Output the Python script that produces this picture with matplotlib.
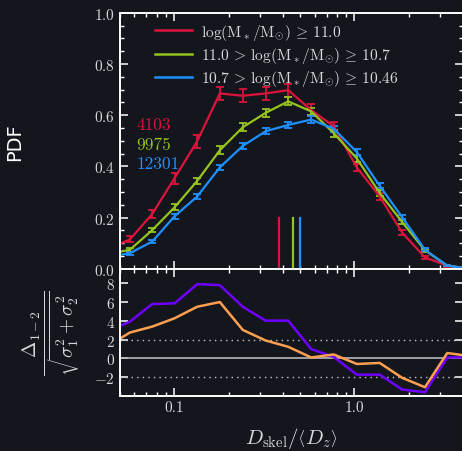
import matplotlib
matplotlib.use('Agg')
import matplotlib.pyplot as plt
from matplotlib.lines import Line2D
from matplotlib.ticker import FixedLocator, FixedFormatter, MultipleLocator, NullFormatter, LogLocator

# data
d_skel = [0.0426, 0.0568, 0.0755, 0.1004, 0.134, 0.179, 0.240, 0.321, 0.429,
          0.575, 0.767, 1.03, 1.38, 1.84, 2.46, 3.27, 4.37]

pdf_high = [0.075, 0.115, 0.214, 0.354, 0.498, 0.685, 0.676, 0.685, 0.698,
            0.620, 0.557, 0.396, 0.282, 0.141, 0.044, 0.012, 0.0]
err_high = [0.012, 0.012, 0.015, 0.022, 0.025, 0.025, 0.025, 0.025, 0.025,
            0.022, 0.018, 0.015, 0.013, 0.010, 0.007, 0.004, 0.002]
pdf_mid = [0.057, 0.074, 0.151, 0.240, 0.343, 0.463, 0.553, 0.609, 0.654,
           0.615, 0.530, 0.431, 0.296, 0.182, 0.072, 0.012, 0.0]
err_mid = [0.007, 0.007, 0.009, 0.011, 0.013, 0.015, 0.016, 0.016, 0.016,
           0.015, 0.014, 0.012, 0.011, 0.009, 0.005, 0.003, 0.001]
pdf_low = [0.044, 0.061, 0.106, 0.205, 0.282, 0.396, 0.480, 0.537, 0.562,
           0.583, 0.547, 0.456, 0.324, 0.201, 0.074, 0.012, 0.0]
err_low = [0.005, 0.006, 0.007, 0.009, 0.010, 0.011, 0.012, 0.012, 0.012,
           0.012, 0.012, 0.011, 0.010, 0.008, 0.005, 0.003, 0.001]

medians = [0.380, 0.455, 0.501]
counts = ['4103', '9975', '12301']

sig_high_low = [2.86, 3.9, 5.76, 5.83, 7.86, 7.76, 5.47, 4.0, 4.0, 0.99, 0.15,
                -1.72, -1.72, -3.3, -3.58, 0.1, 0.1]
sig_high_mid = [1.31, 2.74, 3.37, 4.25, 5.47, 5.97, 3.02, 1.9, 1.23, 0.1, 0.42,
                -0.59, -0.48, -2.06, -3.05, 0.57, 0.25]

labels = [r'$\log(\mathrm{M}_*/\mathrm{M}_{\odot})\,\geq\,11.0$',
          r'$11.0\,>\,\log(\mathrm{M}_*/\mathrm{M}_{\odot})\,\geq\,10.7$',
          r'$10.7\,>\,\log(\mathrm{M}_*/\mathrm{M}_{\odot})\,\geq\,10.46$']
colors = ['#dc143c', '#96c31e', '#1e90ff']

bg = '#14161e'
fg = '#d8d8d8'
plt.rcParams['font.family'] = 'serif'
plt.rcParams['font.serif'] = ['cmr10', 'DejaVu Serif']
plt.rcParams['mathtext.fontset'] = 'cm'
plt.rcParams['axes.formatter.use_mathtext'] = True
plt.rcParams['axes.unicode_minus'] = True

fig = plt.figure(figsize=(4.62, 4.52), dpi=100, facecolor=bg)
ax1 = fig.add_axes([0.2597, 0.4033, 0.7425, 0.566], facecolor=bg)
ax2 = fig.add_axes([0.2597, 0.1223, 0.7425, 0.281], facecolor=bg, sharex=ax1)

series = [(pdf_high, err_high), (pdf_mid, err_mid), (pdf_low, err_low)]
for (y, e), c in zip(series, colors):
    ax1.errorbar(d_skel, y, yerr=e, color=c, lw=1.6, elinewidth=1.3,
                 capsize=3, capthick=1.3)
for m, c in zip(medians, colors):
    ax1.plot([m, m], [0, 0.2], color=c, lw=1.6)
for i, (n, c) in enumerate(zip(counts, colors)):
    ax1.text(0.0615, 0.566 - 0.078 * i, n, color=c, fontsize=12.5, va='center')

handles = [Line2D([], [], color=c, lw=1.8) for c in colors]
leg = ax1.legend(handles, labels, loc='upper left', bbox_to_anchor=(0.06, 1.02),
                 frameon=False, fontsize=11.2, handlelength=2.4,
                 labelspacing=0.22, handletextpad=0.6)
for t in leg.get_texts():
    t.set_color(fg)

ax2.axhline(0, color='#b8b8b8', lw=1.2)
for h in (2, -2):
    ax2.axhline(h, color='#c8c8c8', lw=1.0, ls=(0, (1, 3)))
ax2.plot(d_skel, sig_high_low, color='#7000ff', lw=1.8)
ax2.plot(d_skel, sig_high_mid, color='#ff9f50', lw=1.8)

ax1.set_xscale('log')
ax1.set_xlim(0.05, 4.0)
ax1.set_ylim(0, 1.0)
ax2.set_ylim(-3.95, 9.5)

ax1.yaxis.set_major_locator(MultipleLocator(0.2))
ax1.yaxis.set_minor_locator(MultipleLocator(0.05))
ax2.yaxis.set_major_locator(MultipleLocator(2))
ax2.xaxis.set_major_locator(FixedLocator([0.1, 1.0]))
ax2.xaxis.set_major_formatter(FixedFormatter(['0.1', '1.0']))
ax2.xaxis.set_minor_locator(LogLocator(base=10, subs=range(2, 10)))
ax2.xaxis.set_minor_formatter(NullFormatter())
plt.setp(ax1.get_xticklabels(), visible=False)

for ax in (ax1, ax2):
    ax.tick_params(which='both', direction='in', top=True, right=True,
                   colors='white', labelcolor=fg, labelsize=11)
    ax.tick_params(which='major', length=6, width=1.1)
    ax.tick_params(which='minor', length=3, width=1.0)
    for s in ax.spines.values():
        s.set_color('white')
        s.set_linewidth(1.4)

ax1.set_ylabel('PDF', family='DejaVu Sans', color='white', fontsize=14)
ax1.yaxis.set_label_coords(-0.28, 0.5)
ax2.set_ylabel(r'$\frac{\Delta_{1-2}}{\sqrt{\sigma_1^2+\sigma_2^2}}$', color=fg,
               fontsize=20, labelpad=8)
ax2.set_xlabel(r'$D_{\rm skel}/\left<D_z\right>$', color=fg, fontsize=15, labelpad=8)

fig.savefig('out.png', dpi=100, facecolor=bg)
